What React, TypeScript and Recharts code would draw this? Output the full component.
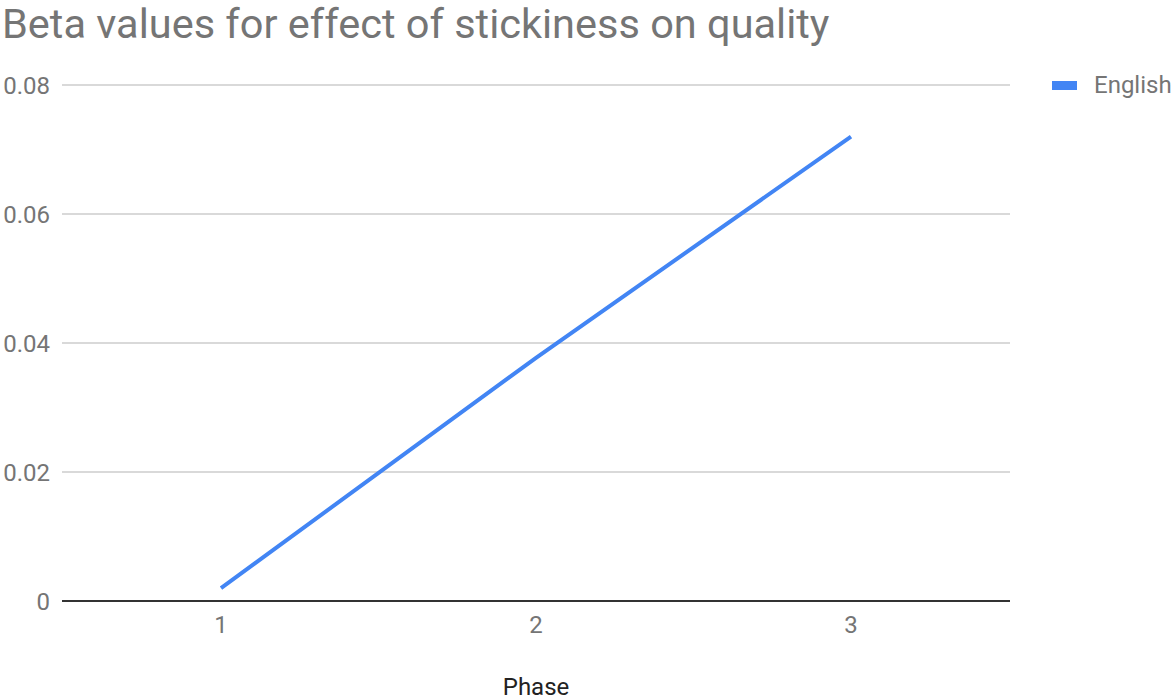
import React from "react";
import { LineChart, Line, XAxis, YAxis, CartesianGrid, Legend } from "recharts";

const phases = ["1", "2", "3"];
const english = [0.002, 0.0377, 0.072];
const yTicks = [0, 0.02, 0.04, 0.06, 0.08];
const title = "Beta values for effect of stickiness on quality";
const seriesName = "English";
const xTitle = "Phase";

const data = phases.map((p, i) => ({ phase: p, English: english[i] }));

const FONT = "Roboto, 'Noto Sans', Arial, sans-serif";
const BLUE = "#4285F4";

const fmtY = (v: number) => (v === 0 ? "0" : v.toFixed(2));

const LegendContent = () => (
  <div style={{ display: "flex", alignItems: "center", fontFamily: FONT, height: 28 }}>
    <div style={{ width: 25, height: 9, background: BLUE, marginRight: 17 }} />
    <span style={{ fontSize: 24, color: "#757575", lineHeight: "28px" }}>{seriesName}</span>
  </div>
);

const XLabel = (props: any) => {
  const vb = props.viewBox || {};
  const cx = vb.x + vb.width / 2;
  return (
    <text x={cx} y={695} textAnchor="middle" fontSize={24} fill="#222" fontFamily={FONT}>
      {xTitle}
    </text>
  );
};

export default function App() {
  return (
    <div style={{ position: "absolute", left: 0, top: 0, width: 1174, height: 696, background: "#fff", overflow: "hidden" }}>
      <div
        style={{
          position: "absolute",
          left: 2,
          top: 3,
          fontFamily: FONT,
          fontSize: 41.5,
          lineHeight: "41.5px",
          color: "#757575",
          whiteSpace: "nowrap",
        }}
      >
        {title}
      </div>
      <LineChart
        width={1174}
        height={696}
        data={data}
        margin={{ top: 85, right: 164, bottom: 0, left: 0 }}
      >
        <CartesianGrid horizontal vertical={false} stroke="#cccccc" strokeWidth={1.5} />
        <XAxis
          dataKey="phase"
          height={67}
          padding={{ left: 159, right: 159 }}
          tickLine={false}
          tickSize={0}
          tickMargin={15}
          axisLine={{ stroke: "#333", strokeWidth: 2 }}
          tick={{ fontSize: 24, fill: "#757575", fontFamily: FONT }}
          label={<XLabel />}
        />
        <YAxis
          width={62}
          domain={[0, 0.08]}
          ticks={yTicks}
          tickFormatter={fmtY}
          axisLine={false}
          tickLine={false}
          tickSize={0}
          tickMargin={12}
          tick={{ fontSize: 24, fill: "#757575", fontFamily: FONT }}
        />
        <Legend
          content={<LegendContent />}
          wrapperStyle={{ position: "absolute", left: 1052, top: 71, width: 122 }}
        />
        <Line
          type="linear"
          dataKey="English"
          name={seriesName}
          stroke={BLUE}
          strokeWidth={4}
          dot={false}
          activeDot={false}
          isAnimationActive={false}
        />
      </LineChart>
    </div>
  );
}
